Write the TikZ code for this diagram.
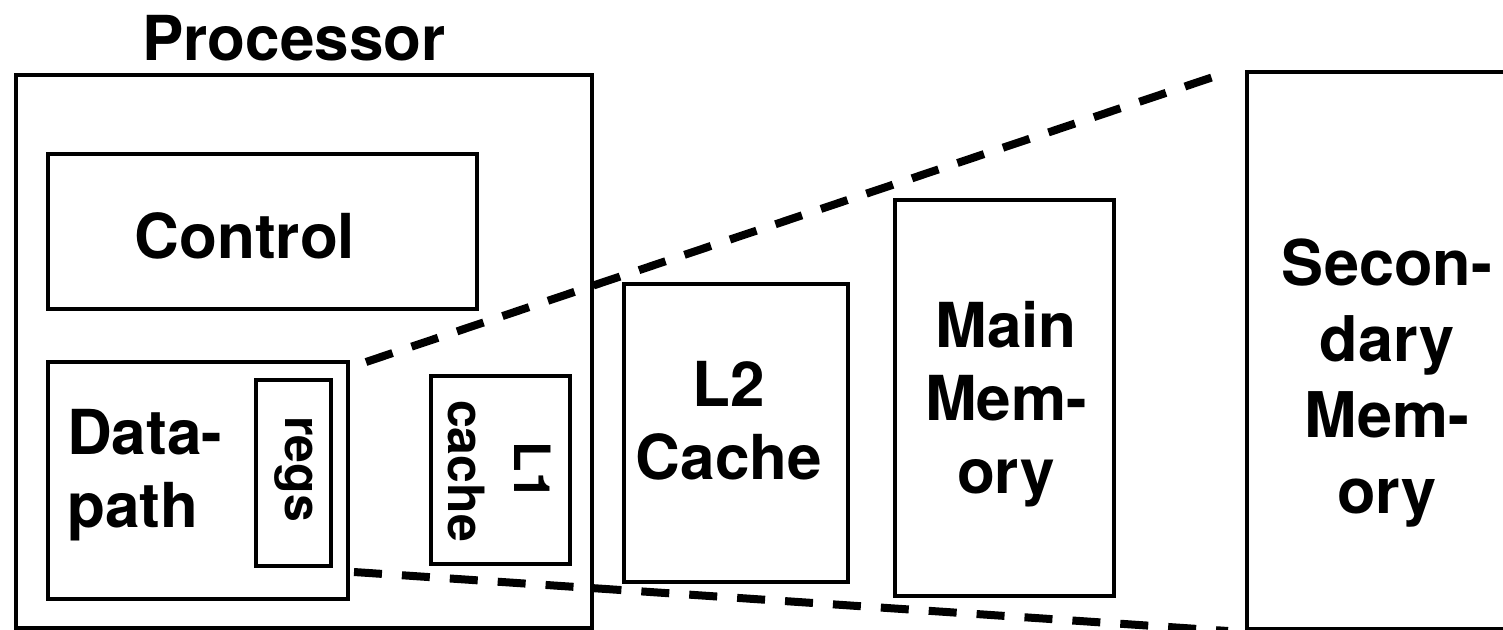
\documentclass[tikz,border=0pt]{standalone}
\usepackage{fontspec}
\setmainfont{TeX Gyre Heros}
\usetikzlibrary{calc}
\begin{document}
\begin{tikzpicture}[x=1pt,y=-1pt,
  box/.style={draw, line width=4pt, inner sep=0pt, anchor=north west},
  lbl/.style={font=\fontsize{62}{73}\selectfont\bfseries, align=center, inner sep=0pt},
  vlbl/.style={font=\fontsize{50}{66}\selectfont\bfseries, align=center, inner sep=0pt, rotate=-90},
  link/.style={line width=8pt, dash pattern=on 28pt off 20pt}]
\useasboundingbox (0,0) rectangle (1503,629);
\clip (0,0) rectangle (1503,629);
% boxes
\node[box, minimum width=576pt, minimum height=553pt] (proc) at (14,73) {};
\node[box, minimum width=429pt, minimum height=155pt] (ctrl) at (46,152) {};
\node[box, minimum width=300pt, minimum height=237pt] (dp) at (46,360) {};
\node[box, minimum width=75pt, minimum height=186pt] (regs) at (254,378) {};
\node[box, minimum width=139pt, minimum height=188pt] (l1) at (429,374) {};
\node[box, minimum width=224pt, minimum height=298pt] (l2) at (622,282) {};
\node[box, minimum width=219pt, minimum height=396pt] (mm) at (893,198) {};
\node[box, minimum width=300pt, minimum height=557pt] (sec) at (1245,70) {};
% labels
\node[lbl] (proctxt) at (294,38) {Processor};
\node[lbl] (ctrltxt) at (245,236) {Control};
\node[lbl, align=left, anchor=west] (dptxt) at (67,475) {Data-\\path};
\node[vlbl] (regstxt) at (294,469) {regs};
\node[vlbl] (l1txt) at (499,471) {L1\hspace{22pt}\\cache};
\node[lbl] (l2txt) at (729,421) {L2\\Cache};
\node[lbl] (mmtxt) at (1006,404) {Main\\Mem-\\ory};
\node[lbl, font=\fontsize{63}{76}\selectfont\bfseries] (sectxt) at (1387,383) {Secon-\\dary\\Mem-\\ory};
% zoom-out lines
\draw[link] ($(dp.north east)+(16,2)$) -- ($(sec.north west)+(-17,2)$);
\draw[link] ($(dp.south east)+(4,-29)$) -- ($(sec.south west)+(-17,0)$);
\end{tikzpicture}
\end{document}
